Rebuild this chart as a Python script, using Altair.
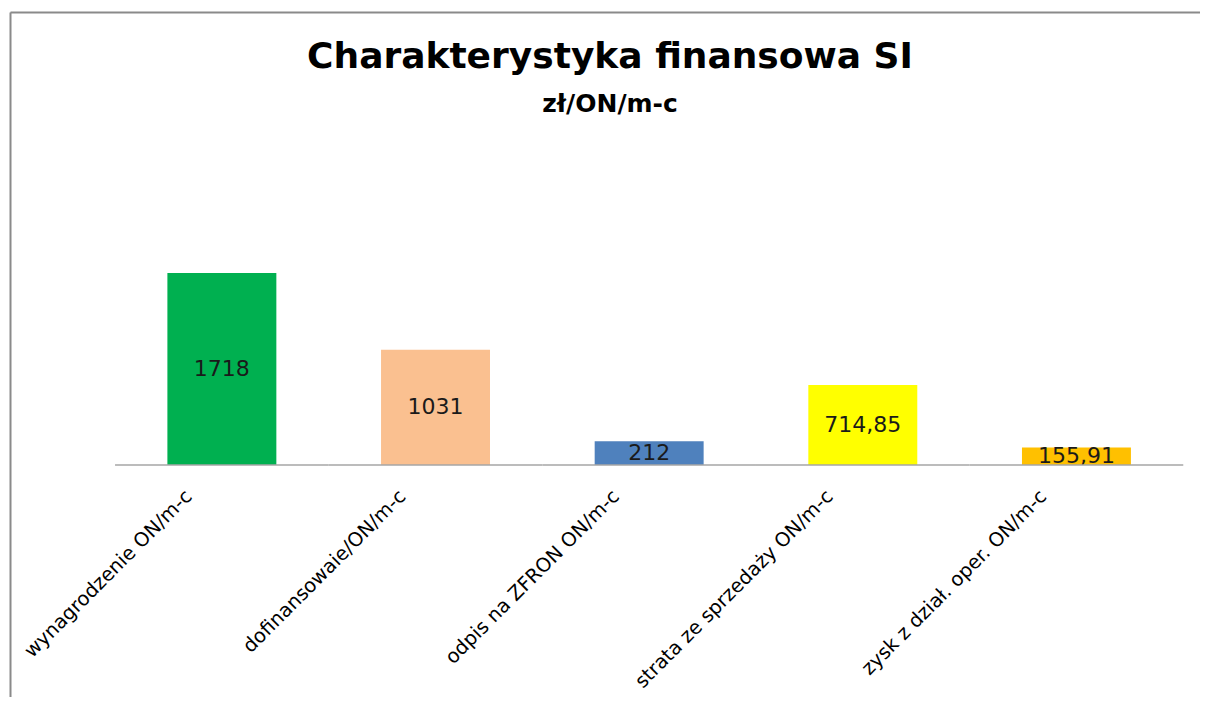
import altair as alt
import pandas as pd

categories = [
    "wynagrodzenie ON/m-c",
    "dofinansowaie/ON/m-c",
    "odpis na ZFRON ON/m-c",
    "strata ze sprzedaży ON/m-c",
    "zysk z dział. oper. ON/m-c",
]
values = [1718, 1031, 212, 714.85, 155.91]
labels = ["1718", "1031", "212", "714,85", "155,91"]
colors = ["#00B050", "#FAC090", "#4F81BD", "#FFFF00", "#FFC000"]

W, H = 1190, 685
Y_MAX, Y_MIN = 4053, -2076
P_IN, P_OUT = 0.49, 0.53
baseline_px = H * Y_MAX / (Y_MAX - Y_MIN)
axis_offset = -(H - baseline_px)
step = W / (len(categories) - P_IN + 2 * P_OUT)

df = pd.DataFrame({"cat": categories, "val": values, "lab": labels})

x_scale = alt.Scale(domain=categories, paddingInner=P_IN, paddingOuter=P_OUT, align=0.695)
y_scale = alt.Scale(domain=[Y_MIN, Y_MAX], nice=False, zero=False)
color_scale = alt.Scale(domain=categories, range=colors)

x_enc = alt.X(
    "cat:N", scale=x_scale, sort=categories, title=None,
    axis=alt.Axis(
        orient="bottom", offset=axis_offset, domain=False, ticks=False,
        labelAngle=-45, labelAlign="right", labelBaseline="middle",
        labelPadding=28, labelOffset=-33, labelFont="DejaVu Sans",
        labelFontSize=19.5, labelColor="#000000", labelLimit=0,
    ),
)

y_axis = alt.Axis(
    values=[Y_MAX], labels=False, ticks=False, title=None,
    domain=True, domainColor="#8a8a8a", domainWidth=2,
    grid=True, gridColor="#8a8a8a", gridWidth=2,
)

bars = alt.Chart(df).mark_bar().encode(
    x=x_enc,
    y=alt.Y("val:Q", scale=y_scale, axis=y_axis),
    color=alt.Color("cat:N", scale=color_scale, legend=None),
)

texts = alt.Chart(df).transform_calculate(mid="datum.val / 2").mark_text(
    font="DejaVu Sans", fontSize=22, color="#1a1a1a", baseline="middle", align="center"
).encode(
    x=alt.X("cat:N", scale=x_scale, sort=categories),
    y=alt.Y("mid:Q", scale=y_scale),
    text="lab:N",
)

base_line = alt.Chart(df).mark_tick(
    color="#a6a6a6", thickness=1.5, size=step, opacity=1
).encode(
    x=alt.X("cat:N", scale=x_scale, sort=categories),
    y=alt.Y(datum=0, scale=y_scale),
)

chart = alt.layer(bars, texts, base_line).properties(
    width=W, height=H,
    padding={"left": 2, "top": 4, "right": 0, "bottom": 0},
    title=alt.TitleParams(
        text="Charakterystyka finansowa SI",
        subtitle="zł/ON/m-c",
        font="DejaVu Sans", fontSize=36, fontWeight="bold", color="#000000",
        subtitleFont="DejaVu Sans", subtitleFontSize=25, subtitleFontWeight="bold",
        subtitleColor="#000000", subtitlePadding=16,
        anchor="middle", offset=-106, dx=5,
    ),
).configure_view(stroke=None).configure(background="#ffffff")

chart.save("out.html", embed_options={"renderer": "svg", "actions": False})
